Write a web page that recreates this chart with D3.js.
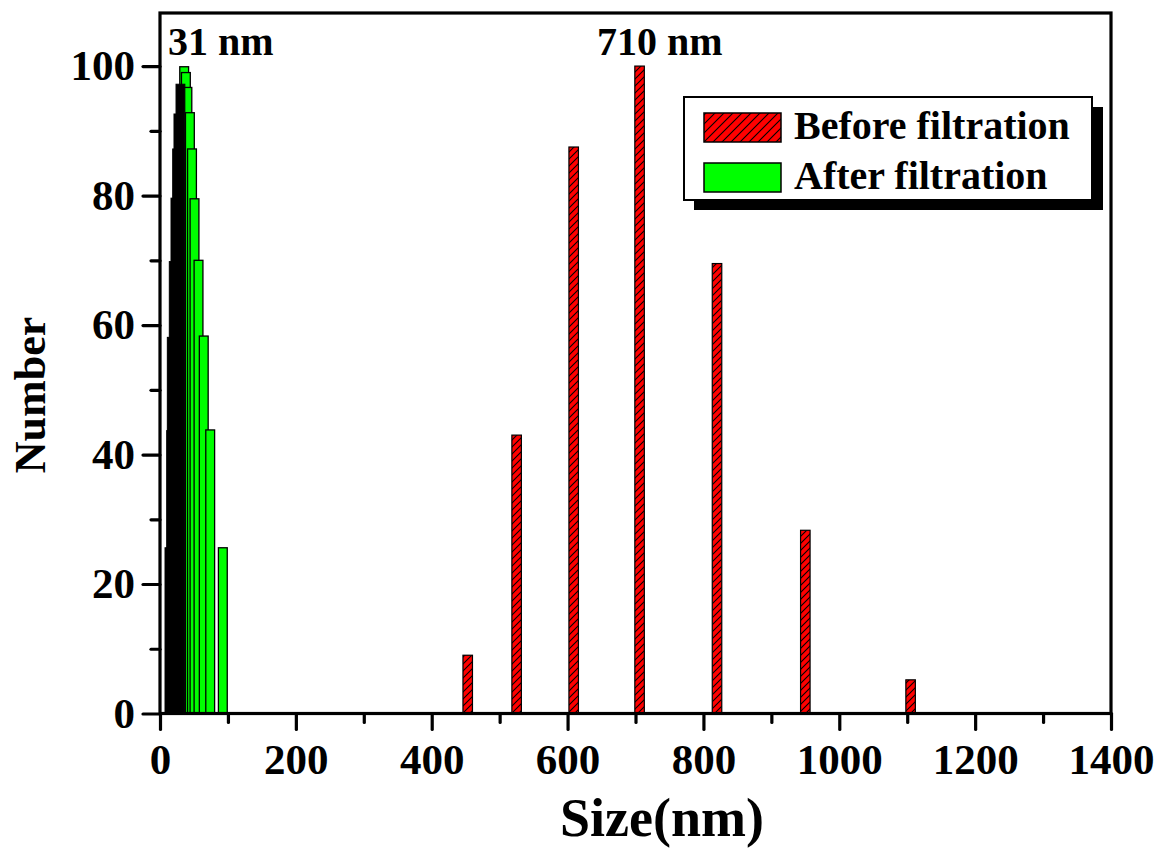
<!DOCTYPE html>
<html>
<head>
    <meta charset="utf-8">
    <title>Size distribution before / after filtration</title>
    <script src="https://d3js.org/d3.v7.min.js"></script>
    <style>
      body { margin: 0; background: #fff; }
      text { font-family: "Liberation Serif", "Times New Roman", serif; font-weight: bold; fill: #000; }
    </style>
</head>
<body>
    <script>
      // data
      var beforeSizes = [453, 525, 609, 706, 820, 950, 1105];
      var beforeValues = [9, 43, 87.5, 100, 69.5, 28.3, 5.2];

      // after filtration, rising side (dense bins, drawn black) and falling side (green)
      var afterRiseSizes = [13.9, 16.4, 17.3, 20.2, 22.7, 25.2, 27.1, 30.1];
      var afterRiseValues = [25.6, 43.7, 58.1, 69.8, 79.6, 87.2, 92.6, 97.2];
      var afterSizes = [35.6, 38.1, 40.3, 44.0, 47.1, 50.8, 56.7, 64.4, 73.9, 92.5];
      var afterValues = [99.9, 99.0, 96.7, 92.8, 87.2, 79.5, 70.0, 58.3, 43.8, 25.6];

      var xTicks = [0, 200, 400, 600, 800, 1000, 1200, 1400];
      var yTicks = [0, 20, 40, 60, 80, 100];
      var seriesNames = ["Before filtration", "After filtration"];

      var width = 1159, height = 856;
      // note: "top" is taken by window.top, so prefix these
      var pLeft = 160, pRight = 1111, pTop = 13, pBottom = 713.5;

      var svg = d3.select("body")
        .append("svg")
        .attr("width", width)
        .attr("height", height);

      var x = d3.scaleLinear().domain([0, 1400]).range([pLeft, pRight]);
      var y = d3.scaleLinear().domain([0, 108.2]).range([pBottom, pTop]);

      // hatch for the red bars
      var defs = svg.append("defs");
      defs.append("pattern")
        .attr("id", "hatch")
        .attr("patternUnits", "userSpaceOnUse")
        .attr("width", 7).attr("height", 7)
        .call(function (p) {
          p.append("rect").attr("width", 7).attr("height", 7).attr("fill", "#ff0000");
          p.append("path")
            .attr("d", "M0,7 L7,0 M-2,2 L2,-2 M5,9 L9,5")
            .attr("stroke", "#000").attr("stroke-width", 1.1);
        });
      defs.append("pattern")
        .attr("id", "hatchLegend")
        .attr("patternUnits", "userSpaceOnUse")
        .attr("width", 9).attr("height", 9)
        .call(function (p) {
          p.append("rect").attr("width", 9).attr("height", 9).attr("fill", "#ff0000");
          p.append("path")
            .attr("d", "M0,9 L9,0 M-2,2 L2,-2 M7,11 L11,7")
            .attr("stroke", "#000").attr("stroke-width", 1.1);
        });

      var barW = function (units) { return x(units) - x(0); };

      // red bars
      svg.append("g").selectAll("rect")
        .data(beforeSizes)
        .enter()
        .append("rect")
        .attr("x", function (d) { return x(d) - barW(14) / 2; })
        .attr("width", barW(14))
        .attr("y", function (d, i) { return y(beforeValues[i]); })
        .attr("height", function (d, i) { return pBottom - y(beforeValues[i]); })
        .attr("fill", "url(#hatch)")
        .attr("stroke", "#000")
        .attr("stroke-width", 1.2);

      // green bars (falling side), left to right
      svg.append("g").selectAll("rect")
        .data(afterSizes)
        .enter()
        .append("rect")
        .attr("x", function (d) { return x(d) - barW(13) / 2; })
        .attr("width", barW(13))
        .attr("y", function (d, i) { return y(afterValues[i]); })
        .attr("height", function (d, i) { return pBottom - y(afterValues[i]); })
        .attr("fill", "#00ff00")
        .attr("stroke", "#000")
        .attr("stroke-width", 1.3);

      // dense rising side shows up black
      svg.append("g").selectAll("rect")
        .data(afterRiseSizes)
        .enter()
        .append("rect")
        .attr("x", function (d) { return x(d) - barW(13) / 2; })
        .attr("width", barW(13))
        .attr("y", function (d, i) { return y(afterRiseValues[i]); })
        .attr("height", function (d, i) { return pBottom - y(afterRiseValues[i]); })
        .attr("fill", "#000")
        .attr("stroke", "#000")
        .attr("stroke-width", 1);

      // axes
      var styleAxis = function (g) {
        g.select(".domain").remove();
        g.selectAll("line").attr("stroke", "#000").attr("stroke-width", 3.2).attr("stroke-linecap", "round");
        g.selectAll("text").style("font-size", "43px");
      };

      svg.append("g")
        .attr("transform", "translate(0," + pBottom + ")")
        .call(d3.axisBottom(x).tickValues(d3.range(100, 1400, 200)).tickSize(9).tickFormat(""))
        .call(styleAxis);
      svg.append("g")
        .attr("transform", "translate(0," + pBottom + ")")
        .call(d3.axisBottom(x).tickValues(xTicks).tickSize(16).tickPadding(14).tickFormat(d3.format("d")))
        .call(styleAxis)
        .selectAll("text").attr("dy", "0.71em");

      svg.append("g")
        .attr("transform", "translate(" + pLeft + ",0)")
        .call(d3.axisLeft(y).tickValues(d3.range(10, 100, 20)).tickSize(9).tickFormat(""))
        .call(styleAxis);
      svg.append("g")
        .attr("transform", "translate(" + pLeft + ",0)")
        .call(d3.axisLeft(y).tickValues(yTicks).tickSize(17).tickPadding(8).tickFormat(d3.format("d")))
        .call(styleAxis);

      // frame
      svg.append("rect")
        .attr("x", pLeft).attr("y", pTop)
        .attr("width", pRight - pLeft).attr("height", pBottom - pTop)
        .attr("fill", "none")
        .attr("stroke", "#000")
        .attr("stroke-width", 3.2);

      // peak labels
      svg.append("text").attr("x", 168).attr("y", 55).style("font-size", "40px").text("31 nm");
      svg.append("text").attr("x", 597).attr("y", 55).style("font-size", "40px").text("710 nm");

      // axis titles
      svg.append("text")
        .attr("x", 662).attr("y", 836)
        .attr("text-anchor", "middle")
        .style("font-size", "54px")
        .text("Size(nm)");
      svg.append("text")
        .attr("transform", "translate(45,395) rotate(-90)")
        .attr("text-anchor", "middle")
        .style("font-size", "44px")
        .text("Number");

      // legend with drop shadow
      var lg = svg.append("g");
      lg.append("rect").attr("x", 694).attr("y", 107).attr("width", 409).attr("height", 103).attr("fill", "#000");
      lg.append("rect").attr("x", 684).attr("y", 97).attr("width", 408).attr("height", 103)
        .attr("fill", "#fff").attr("stroke", "#000").attr("stroke-width", 2);
      var fills = ["url(#hatchLegend)", "#00ff00"];
      seriesNames.forEach(function (name, i) {
        lg.append("rect")
          .attr("x", 704).attr("y", 113 + i * 50)
          .attr("width", 77).attr("height", 29)
          .attr("fill", fills[i]).attr("stroke", "#000").attr("stroke-width", 1.5);
        lg.append("text")
          .attr("x", 794).attr("y", 139 + i * 50)
          .style("font-size", "40px")
          .text(name);
      });
    </script>
</body>
</html>
